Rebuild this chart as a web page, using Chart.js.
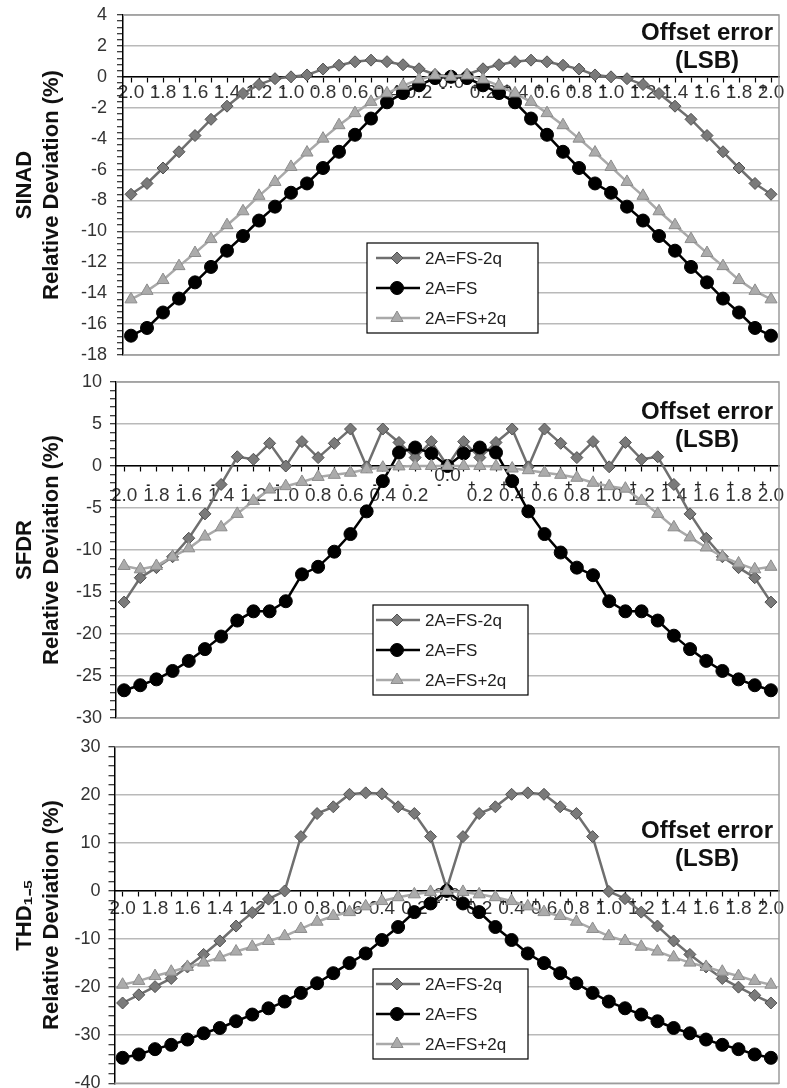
<!DOCTYPE html>
<html>
<head>
<meta charset="utf-8">
<script src="https://cdn.jsdelivr.net/npm/chart.js@4.4.1/dist/chart.umd.min.js"></script>
<style>
  html, body { margin: 0; padding: 0; background: #fff; }
  #page { position: relative; width: 787px; height: 1088px; overflow: hidden; background: #fff; }
  #page canvas { position: absolute; left: 0; }
</style>
</head>
<body>
<div id="page">
  <canvas id="sinad" width="787" height="368" style="top:0px"></canvas>
  <canvas id="sfdr" width="787" height="362" style="top:368px"></canvas>
  <canvas id="thd" width="787" height="368" style="top:730px"></canvas>
</div>
<script>
// offset error in LSB, one category per 0.1 LSB
const offsets = [-2.0, -1.9, -1.8, -1.7, -1.6, -1.5, -1.4, -1.3, -1.2, -1.1,
                 -1.0, -0.9, -0.8, -0.7, -0.6, -0.5, -0.4, -0.3, -0.2, -0.1,
                  0.0,  0.1,  0.2,  0.3,  0.4,  0.5,  0.6,  0.7,  0.8,  0.9,
                  1.0,  1.1,  1.2,  1.3,  1.4,  1.5,  1.6,  1.7,  1.8,  1.9, 2.0];

const seriesNames = ['2A=FS-2q', '2A=FS', '2A=FS+2q'];

// SINAD relative deviation (%)
const sinadMinus2q = [-7.6, -6.9, -5.9, -4.85, -3.8, -2.75, -1.9, -1.08, -0.5, -0.12,
                      0.0, 0.12, 0.5, 0.75, 0.97, 1.08, 0.98, 0.78, 0.52, 0.15,
                      0.02,
                      0.15, 0.52, 0.78, 0.98, 1.08, 0.97, 0.75, 0.5, 0.12, 0.0,
                      -0.12, -0.5, -1.08, -1.9, -2.75, -3.8, -4.85, -5.9, -6.9, -7.6];
const sinadFS = [-16.75, -16.25, -15.25, -14.35, -13.3, -12.3, -11.25, -10.3, -9.3, -8.4,
                 -7.5, -6.9, -5.9, -4.85, -3.75, -2.7, -1.65, -1.05, -0.55, -0.08,
                 0.0,
                 -0.08, -0.55, -1.05, -1.65, -2.7, -3.75, -4.85, -5.9, -6.9, -7.5,
                 -8.4, -9.3, -10.3, -11.25, -12.3, -13.3, -14.35, -15.25, -16.25, -16.75];
const sinadPlus2q = [-14.4, -13.85, -13.15, -12.25, -11.4, -10.5, -9.6, -8.7, -7.7, -6.8,
                     -5.83, -4.9, -4.0, -3.13, -2.35, -1.62, -1.07, -0.57, -0.17, 0.09,
                     0.0,
                     0.09, -0.17, -0.57, -1.07, -1.62, -2.35, -3.13, -4.0, -4.9, -5.83,
                     -6.8, -7.7, -8.7, -9.6, -10.5, -11.4, -12.25, -13.15, -13.85, -14.4];

// SFDR relative deviation (%)
const sfdrMinus2q = [-16.2, -13.3, -12.1, -10.8, -8.6, -5.7, -2.2, 1.1, 0.8, 2.7,
                     0.0, 2.9, 1.0, 2.7, 4.4, -0.1, 4.4, 2.8, 1.0, 2.9,
                     0.0,
                     2.9, 1.0, 2.8, 4.4, -0.1, 4.4, 2.7, 1.0, 2.9, -0.1,
                     2.8, 0.8, 1.1, -2.2, -5.7, -8.6, -10.8, -12.1, -13.3, -16.2];
const sfdrFS = [-26.7, -26.1, -25.4, -24.4, -23.2, -21.8, -20.3, -18.4, -17.3, -17.3,
                -16.1, -12.9, -12.0, -10.2, -8.1, -5.4, -1.8, 1.6, 2.2, 1.5,
                0.0,
                1.5, 2.2, 1.6, -1.8, -5.4, -8.1, -10.3, -12.1, -13.0, -16.1,
                -17.3, -17.3, -18.4, -20.2, -21.8, -23.2, -24.4, -25.4, -26.1, -26.7];
const sfdrPlus2q = [-11.9, -12.3, -11.9, -10.8, -9.8, -8.4, -7.3, -5.7, -4.15, -2.8,
                    -2.4, -1.9, -1.3, -1.05, -0.8, -0.4, -0.2, -0.05, 0.0, 0.0,
                    0.0,
                    0.0, 0.0, -0.05, -0.3, -0.5, -0.8, -1.05, -1.4, -2.0, -2.4,
                    -2.7, -4.15, -5.7, -7.3, -8.5, -9.7, -10.8, -11.6, -12.3, -12.0];

// THD (harmonics 1-5) relative deviation (%)
const thdMinus2q = [-23.3, -21.6, -19.9, -18.2, -15.8, -13.2, -10.4, -7.3, -4.5, -1.7,
                    0.0, 11.3, 16.1, 17.5, 20.1, 20.4, 20.2, 17.5, 16.1, 11.3,
                    0.5,
                    11.3, 16.1, 17.5, 20.1, 20.4, 20.1, 17.5, 16.1, 11.3, -0.1,
                    -1.6, -4.4, -7.3, -10.4, -13.2, -15.8, -18.2, -20.0, -21.7, -23.3];
const thdFS = [-34.7, -34.0, -32.9, -32.0, -30.9, -29.6, -28.5, -27.1, -25.7, -24.4,
               -23.0, -21.2, -19.2, -17.1, -15.0, -13.0, -10.2, -7.5, -4.4, -2.6,
               0.0,
               -2.6, -4.4, -7.5, -10.2, -13.0, -15.0, -17.1, -19.2, -21.2, -23.0,
               -24.4, -25.7, -27.1, -28.5, -29.6, -30.9, -32.0, -32.9, -34.0, -34.7];
const thdPlus2q = [-19.5, -18.7, -17.7, -16.8, -15.8, -14.9, -13.8, -12.6, -11.6, -10.4,
                   -9.4, -7.9, -6.4, -5.2, -4.4, -3.2, -2.1, -1.3, -0.7, -0.2,
                   0.0,
                   -0.2, -0.7, -1.3, -2.1, -3.2, -4.4, -5.2, -6.4, -7.9, -9.4,
                   -10.4, -11.6, -12.6, -13.8, -14.9, -15.8, -16.8, -17.7, -18.7, -19.5];

const FONT = "'Liberation Sans', Arial, Helvetica, sans-serif";
Chart.defaults.font.family = FONT;

const seriesStyle = [
  { color: '#6f6f6f', fill: '#7a7a7a', edge: '#505050', point: 'rectRot', radius: 6, order: 3 },
  { color: '#000000', fill: '#000000', edge: '#000000', point: 'circle', radius: 6.5, order: 2 },
  { color: '#a9a9a9', fill: '#ababab', edge: '#8c8c8c', point: 'triangle', radius: 7, order: 1 }
];

function drawMarker(ctx, style, x, y, r) {
  ctx.beginPath();
  if (style === 'circle') {
    ctx.arc(x, y, r, 0, Math.PI * 2);
  } else if (style === 'rectRot') {
    ctx.moveTo(x - r, y); ctx.lineTo(x, y - r); ctx.lineTo(x + r, y); ctx.lineTo(x, y + r);
    ctx.closePath();
  } else {
    for (let k = 0; k < 3; k++) {
      const a = k * 2 * Math.PI / 3;
      ctx.lineTo(x + Math.sin(a) * r, y - Math.cos(a) * r);
    }
    ctx.closePath();
  }
  ctx.fill();
  ctx.stroke();
}

// grey plot frame, "Offset error (LSB)" note and the boxed legend
const panelDecor = {
  id: 'panelDecor',
  beforeDatasetsDraw(chart) {
    const { ctx, chartArea: a } = chart;
    ctx.save();
    ctx.strokeStyle = '#9c9c9c';
    ctx.lineWidth = 1.5;
    ctx.beginPath();
    ctx.moveTo(a.left, a.top); ctx.lineTo(a.right, a.top);
    ctx.lineTo(a.right, a.bottom); ctx.lineTo(a.left, a.bottom);
    ctx.stroke();
    ctx.restore();
  },
  afterDatasetsDraw(chart, args, opts) {
    const ctx = chart.ctx;
    ctx.save();
    ctx.fillStyle = '#111';
    ctx.font = 'bold 24px ' + FONT;
    ctx.textAlign = 'center';
    ctx.textBaseline = 'middle';
    ctx.fillText('Offset error', opts.noteX, opts.noteY);
    ctx.fillText('(LSB)', opts.noteX, opts.noteY + 28);

    const b = opts.box;
    ctx.fillStyle = '#fff';
    ctx.fillRect(b.x, b.y, b.w, b.h);
    ctx.strokeStyle = '#000';
    ctx.lineWidth = 1.2;
    ctx.strokeRect(b.x, b.y, b.w, b.h);
    ctx.font = '17px ' + FONT;
    ctx.textAlign = 'left';
    chart.data.datasets.forEach((ds, i) => {
      const s = seriesStyle[i];
      const y = b.y + 15 + i * 30;
      ctx.strokeStyle = s.color;
      ctx.lineWidth = 2.5;
      ctx.beginPath();
      ctx.moveTo(376, y); ctx.lineTo(420, y);
      ctx.stroke();
      ctx.fillStyle = s.fill;
      ctx.strokeStyle = s.edge;
      ctx.lineWidth = 1;
      drawMarker(ctx, s.point, 397, y, s.radius);
      ctx.fillStyle = '#222';
      ctx.fillText(ds.label, 425, y + 1);
    });
    ctx.restore();
  }
};

function numberLabel(i) {
  if (i === 20) return ['0.0', ''];
  if (i % 2 === 0) return ['', Math.abs(offsets[i]).toFixed(1)];
  return '';
}
function signLabel(i) {
  if (i % 2 === 0) return '';
  return offsets[i] < 0 ? '-' : '+';
}

function makePanel(id, p) {
  const isMajor = v => Math.abs(v / p.major - Math.round(v / p.major)) < 1e-6;
  const datasets = p.series.map((vals, i) => {
    const s = seriesStyle[i];
    return {
      label: seriesNames[i],
      data: vals,
      borderColor: s.color,
      borderWidth: 2.5,
      pointStyle: s.point,
      pointRadius: s.radius,
      pointBackgroundColor: s.fill,
      pointBorderColor: s.edge,
      pointBorderWidth: 1,
      tension: 0,
      order: s.order
    };
  });
  const noPad = scale => { scale.paddingLeft = 0; scale.paddingRight = 0; };
  return new Chart(document.getElementById(id), {
    type: 'line',
    data: { labels: offsets.map(v => v.toFixed(1)), datasets: datasets },
    options: {
      responsive: false,
      animation: false,
      devicePixelRatio: 1,
      layout: { padding: { top: p.padTop, bottom: p.padBottom, left: 0, right: 2 } },
      plugins: {
        legend: { display: false },
        tooltip: { enabled: false },
        panelDecor: { box: p.box, noteX: 707, noteY: p.noteY }
      },
      scales: {
        x: {
          type: 'category',
          position: { y: 0 },
          offset: true,
          afterFit: noPad,
          border: { display: true, color: '#000', width: 1.5 },
          grid: { drawOnChartArea: false, drawTicks: true, tickLength: 5, tickColor: '#000', tickWidth: 1.2 },
          ticks: {
            autoSkip: false, maxRotation: 0, minRotation: 0,
            padding: p.numPad, color: '#333',
            font: { size: 19, lineHeight: p.numLine + 'px' },
            callback: (v, i) => numberLabel(i)
          }
        },
        x2: {
          type: 'category',
          position: { y: 0 },
          offset: true,
          afterFit: noPad,
          border: { display: false },
          grid: { display: false },
          ticks: {
            autoSkip: false, maxRotation: 0, minRotation: 0,
            padding: p.signPad, labelOffset: 8, color: '#222',
            font: { size: 12, weight: 'bold' },
            callback: (v, i) => signLabel(i)
          }
        },
        y: {
          min: p.min, max: p.max,
          afterFit: scale => { scale.width = p.axisWidth; scale.paddingTop = 0; scale.paddingBottom = 0; },
          border: { color: '#000', width: 1.5 },
          grid: {
            color: ctx => isMajor(ctx.tick.value) ? '#b9b9b9' : 'rgba(0,0,0,0)',
            lineWidth: 1.5,
            drawTicks: true,
            tickLength: 6,
            tickColor: '#000',
            tickWidth: 1
          },
          ticks: {
            stepSize: p.minor, autoSkip: false, padding: p.yPad, color: '#333',
            font: { size: 18 },
            callback: v => isMajor(v) ? String(Math.round(v)) : ''
          },
          title: {
            display: true, text: p.title, color: '#111',
            font: { size: 22, weight: 'bold', lineHeight: 1.25 },
            padding: { top: 11, bottom: 0 }
          }
        }
      }
    },
    plugins: [panelDecor]
  });
}

makePanel('sinad', {
  title: ['SINAD', 'Relative Deviation (%)'],
  series: [sinadMinus2q, sinadFS, sinadPlus2q],
  min: -18, max: 4, minor: 0.4, major: 2,
  padTop: 15, padBottom: 13, axisWidth: 123, yPad: 10,
  numPad: -4, numLine: 10, signPad: -3,
  noteY: 33,
  box: { x: 367, y: 243, w: 171, h: 90 }
});

makePanel('sfdr', {
  title: ['SFDR', 'Relative Deviation (%)'],
  series: [sfdrMinus2q, sfdrFS, sfdrPlus2q],
  min: -30, max: 10, minor: 1, major: 5,
  padTop: 14, padBottom: 12, axisWidth: 116, yPad: 8,
  numPad: -5, numLine: 20, signPad: 4,
  noteY: 44,
  box: { x: 373, y: 237, w: 155, h: 90 }
});

makePanel('thd', {
  title: ['THD\u2081\u208B\u2085', 'Relative Deviation (%)'],
  series: [thdMinus2q, thdFS, thdPlus2q],
  min: -40, max: 30, minor: 2, major: 10,
  padTop: 16.7, padBottom: 14.7, axisWidth: 114.5, yPad: 8,
  numPad: -6.5, numLine: 13, signPad: -3.7,
  noteY: 101,
  box: { x: 373, y: 239, w: 155, h: 90 }
});
</script>
</body>
</html>
